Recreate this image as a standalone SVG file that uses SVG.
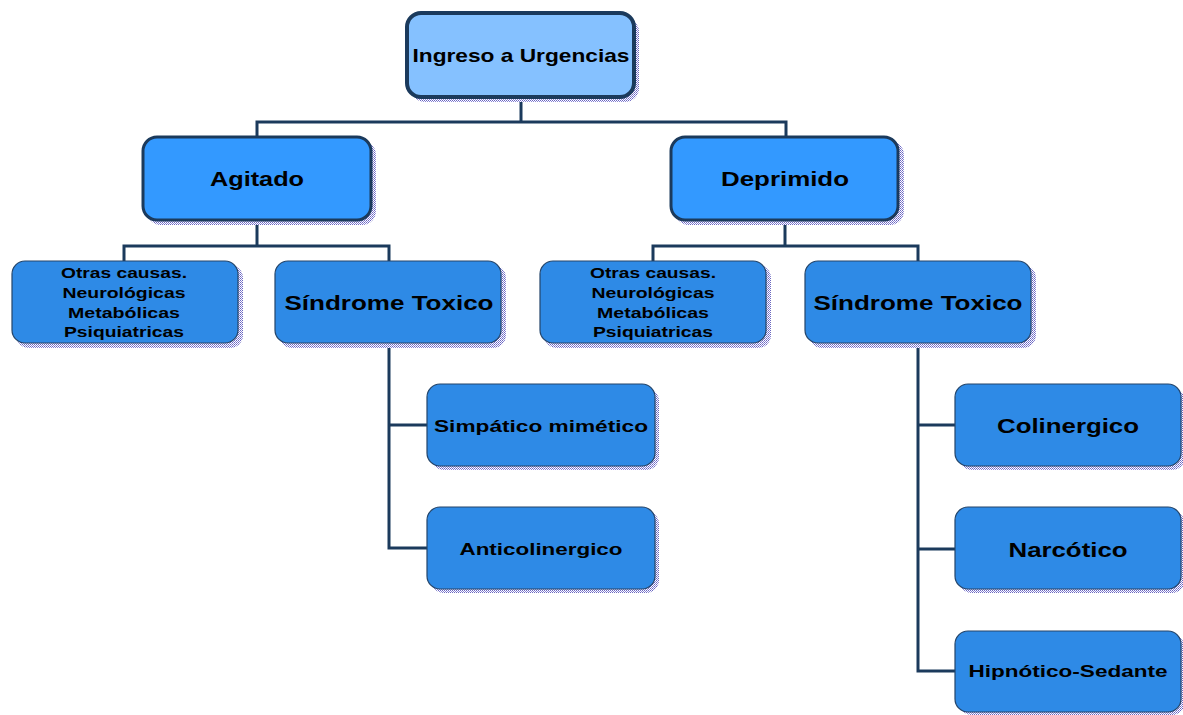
<svg xmlns="http://www.w3.org/2000/svg" width="1183" height="715" viewBox="0 0 1183 715">
<defs>
<pattern id="dots" width="2" height="2" patternUnits="userSpaceOnUse">
<rect width="2" height="2" fill="#ffffff"/>
<rect width="1" height="1" fill="#6a66c0"/>
<rect x="1" y="1" width="1" height="1" fill="#8a86d8"/>
</pattern>
</defs>
<style>
.sh{fill:url(#dots)}
.l1{fill:#85c1ff;stroke:#1b3a5c;stroke-width:4}
.l2{fill:#3399ff;stroke:#1b3a5c;stroke-width:3}
.l3{fill:#2e8ae6;stroke:#24456a;stroke-width:1.2}
text{font-family:"Liberation Sans",Arial,sans-serif;font-weight:bold;fill:#000;text-anchor:middle}
.c{fill:none;stroke:#1b3a5c;stroke-width:3}
</style>
<rect width="1183" height="715" fill="#ffffff"/>
<g id="connectors">
<polyline class="c" points="521,97 521,122"/>
<polyline class="c" points="257,137 257,122 786,122 786,137"/>
<polyline class="c" points="257,220 257,246"/>
<polyline class="c" points="124,261 124,246 389,246 389,261"/>
<polyline class="c" points="785,220 785,246"/>
<polyline class="c" points="653,261 653,246 918,246 918,261"/>
<polyline class="c" points="389,345 389,548 427,548"/>
<polyline class="c" points="389,425 427,425"/>
<polyline class="c" points="918,345 918,671 955,671"/>
<polyline class="c" points="918,425 955,425"/>
<polyline class="c" points="918,549 955,549"/>
</g>
<g id="n-ingreso">
<rect class="sh" x="411" y="18" width="228" height="84" rx="14"/>
<rect class="l1" x="407" y="13" width="227" height="84" rx="14"/>
<text x="521" y="62" font-size="19" textLength="217" lengthAdjust="spacingAndGlyphs">Ingreso a Urgencias</text>
</g>
<g id="n-agitado">
<rect class="sh" x="147" y="141" width="229" height="84" rx="14"/>
<rect class="l2" x="143" y="137" width="228" height="83" rx="14"/>
<text x="257" y="186" font-size="20.5" textLength="94" lengthAdjust="spacingAndGlyphs">Agitado</text>
</g>
<g id="n-deprimido">
<rect class="sh" x="675" y="141" width="229" height="84" rx="14"/>
<rect class="l2" x="671" y="137" width="227" height="83" rx="14"/>
<text x="785" y="186" font-size="20.5" textLength="128" lengthAdjust="spacingAndGlyphs">Deprimido</text>
</g>
<g id="n-otras-izq">
<rect class="sh" x="16" y="265" width="227" height="83" rx="13"/>
<rect class="l3" x="12" y="261" width="226" height="82" rx="13"/>
<text x="124" y="278" font-size="15" textLength="126" lengthAdjust="spacingAndGlyphs">Otras causas.</text>
<text x="124" y="298" font-size="15" textLength="123" lengthAdjust="spacingAndGlyphs">Neurológicas</text>
<text x="124" y="318" font-size="15" textLength="112" lengthAdjust="spacingAndGlyphs">Metabólicas</text>
<text x="124" y="337" font-size="15" textLength="120" lengthAdjust="spacingAndGlyphs">Psiquiatricas</text>
</g>
<g id="n-sindrome-izq">
<rect class="sh" x="279" y="265" width="227" height="83" rx="13"/>
<rect class="l3" x="275" y="261" width="226" height="82" rx="13"/>
<text x="389" y="310" font-size="20" textLength="209" lengthAdjust="spacingAndGlyphs">Síndrome Toxico</text>
</g>
<g id="n-otras-der">
<rect class="sh" x="544" y="265" width="227" height="83" rx="13"/>
<rect class="l3" x="540" y="261" width="226" height="82" rx="13"/>
<text x="653" y="278" font-size="15" textLength="126" lengthAdjust="spacingAndGlyphs">Otras causas.</text>
<text x="653" y="298" font-size="15" textLength="123" lengthAdjust="spacingAndGlyphs">Neurológicas</text>
<text x="653" y="318" font-size="15" textLength="112" lengthAdjust="spacingAndGlyphs">Metabólicas</text>
<text x="653" y="337" font-size="15" textLength="120" lengthAdjust="spacingAndGlyphs">Psiquiatricas</text>
</g>
<g id="n-sindrome-der">
<rect class="sh" x="809" y="265" width="227" height="83" rx="13"/>
<rect class="l3" x="805" y="261" width="226" height="82" rx="13"/>
<text x="918" y="310" font-size="20" textLength="209" lengthAdjust="spacingAndGlyphs">Síndrome Toxico</text>
</g>
<g id="n-simpatico">
<rect class="sh" x="431" y="388" width="228" height="82" rx="13"/>
<rect class="l3" x="427" y="384" width="228" height="82" rx="13"/>
<text x="541" y="432" font-size="17" textLength="214" lengthAdjust="spacingAndGlyphs">Simpático mimético</text>
</g>
<g id="n-anticolinergico">
<rect class="sh" x="431" y="511" width="228" height="82" rx="13"/>
<rect class="l3" x="427" y="507" width="228" height="82" rx="13"/>
<text x="541" y="555" font-size="17" textLength="163" lengthAdjust="spacingAndGlyphs">Anticolinergico</text>
</g>
<g id="n-colinergico">
<rect class="sh" x="959" y="388" width="226" height="82" rx="13"/>
<rect class="l3" x="955" y="384" width="226" height="82" rx="13"/>
<text x="1068" y="433" font-size="20" textLength="142" lengthAdjust="spacingAndGlyphs">Colinergico</text>
</g>
<g id="n-narcotico">
<rect class="sh" x="959" y="511" width="226" height="82" rx="13"/>
<rect class="l3" x="955" y="507" width="226" height="82" rx="13"/>
<text x="1068" y="557" font-size="20" textLength="119" lengthAdjust="spacingAndGlyphs">Narcótico</text>
</g>
<g id="n-hipnotico">
<rect class="sh" x="959" y="635" width="226" height="80" rx="13"/>
<rect class="l3" x="955" y="631" width="226" height="81" rx="13"/>
<text x="1068" y="677" font-size="17" textLength="199" lengthAdjust="spacingAndGlyphs">Hipnótico-Sedante</text>
</g>
</svg>
